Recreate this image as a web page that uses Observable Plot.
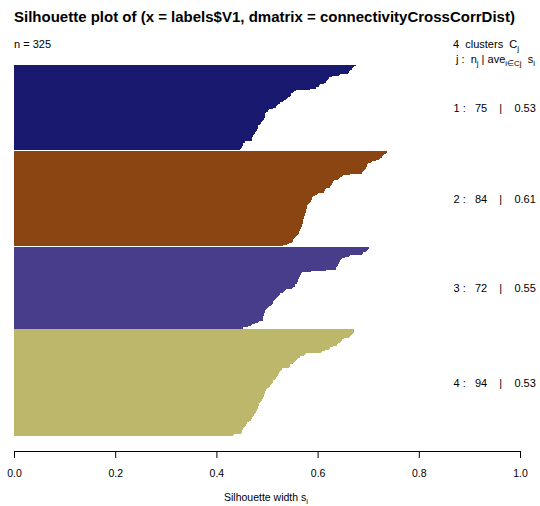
<!DOCTYPE html>
<html><head><meta charset="utf-8">
<script src="https://cdn.jsdelivr.net/npm/d3@7"></script>
<script src="https://cdn.jsdelivr.net/npm/@observablehq/plot@0.6"></script>
<style>
body{margin:0;background:#fff;}
</style></head><body><div id="wrap"></div>
<script>
const titleText = "Silhouette plot of (x = labels$V1, dmatrix = connectivityCrossCorrDist)";
const clusters = [1, 2, 3, 4];
const clusterSizes = [75, 84, 72, 94];
const clusterAvg = [0.53, 0.61, 0.55, 0.53];
const clusterColors = ["#191970", "#8B4513", "#483D8B", "#BDB76B"];
const xTicks = [0, 0.2, 0.4, 0.6, 0.8, 1.0];

const widths1 = [0.676,0.672,0.669,0.667,0.665,0.663,0.662,0.660,0.645,0.642,0.628,0.622,0.620,0.619,0.617,0.616,0.612,0.605,0.602,0.597,0.596,0.585,0.557,0.554,0.552,0.548,0.547,0.546,0.542,0.540,0.537,0.533,0.531,0.526,0.522,0.520,0.518,0.517,0.511,0.503,0.501,0.499,0.497,0.497,0.496,0.496,0.496,0.495,0.492,0.490,0.489,0.488,0.486,0.483,0.482,0.482,0.481,0.480,0.478,0.477,0.476,0.474,0.472,0.471,0.471,0.470,0.470,0.457,0.456,0.453,0.452,0.451,0.450,0.449,0.447];
const widths2 = [0.738,0.737,0.735,0.731,0.729,0.727,0.723,0.721,0.715,0.708,0.706,0.700,0.698,0.697,0.696,0.695,0.694,0.692,0.689,0.688,0.664,0.651,0.649,0.645,0.643,0.640,0.633,0.631,0.629,0.628,0.627,0.625,0.624,0.617,0.614,0.613,0.612,0.600,0.598,0.595,0.591,0.589,0.588,0.587,0.586,0.584,0.583,0.581,0.580,0.580,0.579,0.578,0.578,0.577,0.577,0.576,0.575,0.574,0.574,0.573,0.572,0.572,0.571,0.571,0.570,0.569,0.569,0.568,0.567,0.566,0.565,0.564,0.563,0.561,0.560,0.558,0.555,0.554,0.552,0.551,0.549,0.544,0.539,0.532];
const widths3 = [0.702,0.701,0.699,0.698,0.695,0.689,0.688,0.665,0.663,0.654,0.649,0.647,0.644,0.643,0.642,0.641,0.640,0.639,0.637,0.636,0.617,0.587,0.570,0.568,0.567,0.566,0.565,0.563,0.562,0.561,0.561,0.560,0.559,0.556,0.555,0.551,0.549,0.537,0.535,0.533,0.531,0.526,0.523,0.521,0.519,0.517,0.516,0.514,0.512,0.511,0.509,0.507,0.504,0.502,0.500,0.499,0.497,0.496,0.495,0.494,0.494,0.493,0.493,0.493,0.492,0.485,0.483,0.476,0.471,0.469,0.463,0.453];
const widths4 = [0.672,0.671,0.671,0.670,0.667,0.666,0.664,0.663,0.652,0.649,0.647,0.644,0.640,0.639,0.638,0.630,0.624,0.622,0.615,0.609,0.607,0.578,0.576,0.574,0.565,0.561,0.559,0.557,0.555,0.554,0.551,0.546,0.545,0.544,0.530,0.529,0.527,0.526,0.524,0.522,0.521,0.519,0.518,0.517,0.516,0.512,0.511,0.509,0.508,0.506,0.505,0.503,0.500,0.499,0.497,0.497,0.496,0.495,0.495,0.494,0.493,0.491,0.490,0.488,0.487,0.485,0.484,0.484,0.483,0.483,0.481,0.480,0.479,0.478,0.477,0.475,0.472,0.471,0.470,0.469,0.468,0.465,0.461,0.459,0.458,0.456,0.455,0.453,0.452,0.451,0.450,0.448,0.434,0.432];

const NB = "\u00A0";
const widthSets = [widths1, widths2, widths3, widths4];
const rows = [];
const labelRows = [];
let pos = 0;
widthSets.forEach((w, k) => {
  if (k > 0) pos += 0.5;
  const start = pos;
  w.forEach(s => { rows.push({cluster: clusters[k], s, y1: pos, y2: pos + 1}); pos += 1; });
  labelRows.push({mid: (start + pos) / 2,
    label: `${clusters[k]} :   ${clusterSizes[k]}    |    ${clusterAvg[k].toFixed(2)}`.replace(/ /g, NB)});
});
const total = pos;
const font = "'Liberation Sans', Arial, Helvetica, sans-serif";

const chart = Plot.plot({
  width: 540, height: 506,
  marginLeft: 14, marginRight: 20, marginTop: 65, marginBottom: 70,
  style: {fontFamily: font, background: "white", color: "black"},
  x: {domain: [xTicks[0], xTicks[xTicks.length - 1]], axis: null},
  y: {domain: [0, total], reverse: true, axis: null},
  color: {domain: clusters, range: clusterColors},
  marks: [
    Plot.rectX(rows, {x1: 0, x2: "s", y1: "y1", y2: "y2", fill: "cluster", shapeRendering: "crispEdges"}),
    Plot.ruleY([total], {x1: xTicks[0], x2: xTicks[xTicks.length - 1], dy: 15, stroke: "black"}),
    Plot.ruleX(xTicks, {x: d => d, y1: total, y2: total, insetBottom: -7, dy: 15, stroke: "black"}),
    Plot.text(xTicks, {x: d => d, frameAnchor: "bottom", dy: 40, text: d => d3.format(".1f")(d), fontSize: 10.5, fill: "black"}),
    Plot.text(labelRows, {y: "mid", text: "label", frameAnchor: "right", textAnchor: "start", dx: -67, fontSize: 11, fill: "black"})
  ]
});
document.getElementById("wrap").appendChild(chart);

const svg = d3.select(chart);
const g = svg.append("g").attr("font-family", font).attr("fill", "black").attr("text-anchor", "start");
g.append("text").attr("x", 14).attr("y", 22).attr("font-size", 15).attr("font-weight", "bold").text(titleText);
g.append("text").attr("x", 14).attr("y", 48).attr("font-size", 11).text(`n = ${rows.length}`);

function withSubs(sel, parts, size) {
  let shifted = false;
  parts.forEach(p => {
    if (typeof p === "string") {
      sel.append("tspan").attr("font-size", size).attr("dy", shifted ? -3 : null).text(p.replace(/ /g, NB));
      shifted = false;
    } else {
      sel.append("tspan").attr("font-size", size * 0.72).attr("dy", 3).text(p.sub);
      shifted = true;
    }
  });
}
const h1 = g.append("text").attr("x", 453).attr("y", 48);
withSubs(h1, [`${clusters.length}  clusters  C`, {sub: "j"}], 11);
const h2 = g.append("text").attr("x", 456).attr("y", 63);
withSubs(h2, ["j :  n", {sub: "j"}, " | ave", {sub: "i\u2208Cj"}, "  s", {sub: "i"}], 11);

const xl = g.append("text").attr("x", 266).attr("y", 501).attr("text-anchor", "middle");
withSubs(xl, ["Silhouette width s", {sub: "i"}], 10.5);
</script></body></html>
